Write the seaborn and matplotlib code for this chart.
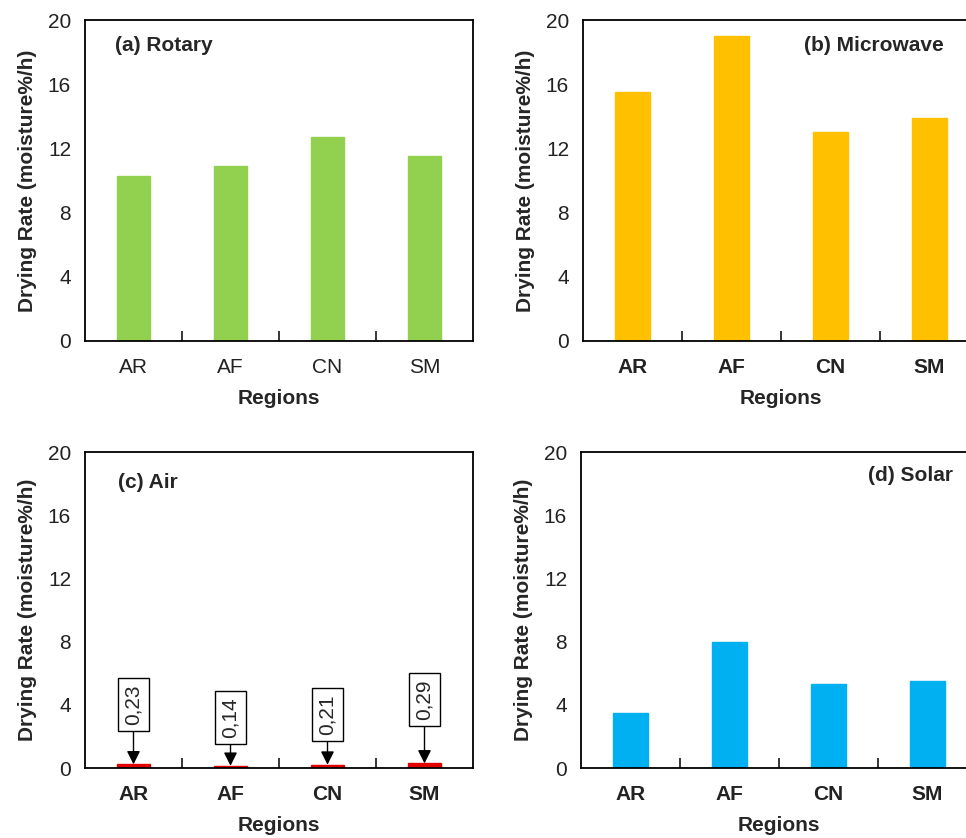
import matplotlib
matplotlib.use("Agg")
import matplotlib.pyplot as plt
import seaborn as sns
import pandas as pd

# Data
regions = ["AR", "AF", "CN", "SM"]
rotary = [10.3, 10.9, 12.7, 11.5]
microwave = [15.5, 19.0, 13.0, 13.9]
air = [0.23, 0.14, 0.21, 0.29]
solar = [3.5, 8.0, 5.3, 5.5]
air_labels = ["0,23", "0,14", "0,21", "0,29"]

sns.set_style("white")
plt.rcParams["font.family"] = ["Liberation Sans", "DejaVu Sans"]

fig = plt.figure(figsize=(9.66, 8.38), dpi=100)
W, H = 966, 838
FS = 15


def px_axes(left, top, right, bottom):
    return fig.add_axes([left / W, 1 - bottom / H, (right - left) / W, (bottom - top) / H])


# axes, values, colour, panel title, title anchor (x, y, ha), bold tick labels
panels = [
    (px_axes(85, 20, 473, 341), rotary, "#92D050", "(a) Rotary", (0.077, 0.92, "left"), False),
    (px_axes(583, 20, 979, 341), microwave, "#FFC000", "(b) Microwave", (0.91, 0.92, "right"), True),
    (px_axes(85, 452, 473, 768), air, "#E00000", "(c) Air", (0.085, 0.905, "left"), True),
    (px_axes(581, 452, 977, 768), solar, "#00B0F0", "(d) Solar", (0.94, 0.925, "right"), True),
]

for ax, vals, col, title, (tx, ty, ha), bold_ticks in panels:
    df = pd.DataFrame({"Region": regions, "Rate": vals})
    sns.barplot(data=df, x="Region", y="Rate", color=col, width=0.35,
                saturation=1, edgecolor=col, linewidth=1, ax=ax)
    ax.set_xlim(-0.5, 3.5)
    ax.set_ylim(0, 20)
    ax.set_yticks(range(0, 21, 4))
    ax.set_xticks([0.5, 1.5, 2.5], minor=True)
    ax.tick_params(axis="x", which="major", length=0, pad=12, labelsize=FS)
    ax.tick_params(axis="x", which="minor", direction="in", length=7, width=1.3, bottom=True)
    ax.tick_params(axis="y", length=0, pad=10, labelsize=FS)
    for t in ax.get_xticklabels() + ax.get_yticklabels():
        t.set_color("#222222")
    if bold_ticks:
        for t in ax.get_xticklabels():
            t.set_fontweight("bold")
    ax.set_xlabel("Regions", fontsize=FS, fontweight="bold", labelpad=9)
    ax.set_ylabel("Drying Rate (moisture%/h)", fontsize=FS, fontweight="bold", labelpad=8)
    for s in ax.spines.values():
        s.set_linewidth(1.3)
        s.set_color("black")
    ax.text(tx, ty, title, transform=ax.transAxes, fontsize=FS,
            fontweight="bold", ha=ha, va="center")

# value call-outs on the air-drying panel
ax_c = panels[2][0]
label_y = [4.0, 3.2, 3.4, 4.35]
for i, (v, lab, ly) in enumerate(zip(air, air_labels, label_y)):
    ax_c.annotate(lab, xy=(i, v), xytext=(i, ly), rotation=90, ha="center", va="center",
                  fontsize=FS,
                  bbox=dict(boxstyle="square,pad=0.3", fc="white", ec="black", lw=1),
                  arrowprops=dict(arrowstyle="-|>", color="black", lw=1,
                                  mutation_scale=20, shrinkA=0, shrinkB=0))

fig.savefig("out.png", dpi=100)
